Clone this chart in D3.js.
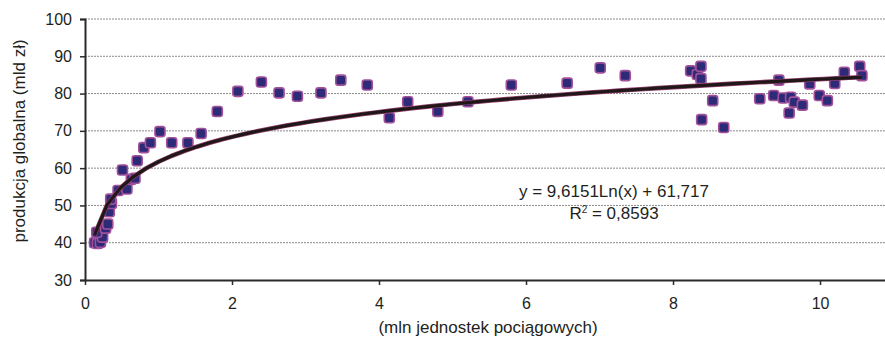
<!DOCTYPE html>
<html>
<head>
<meta charset="utf-8">
<script src="https://cdn.jsdelivr.net/npm/d3@7"></script>
<style>
  html, body { margin: 0; padding: 0; background: #fff; }
  text { font-family: "Liberation Sans", Arial, sans-serif; fill: #231f20; }
</style>
</head>
<body>
<div id="chart"></div>
<script>
// mln jednostek pociągowych
const xValues = [
  0.13, 0.17, 0.21, 0.24, 0.16, 0.28, 0.31, 0.33, 0.36, 0.35,
  0.45, 0.51, 0.57, 0.63, 0.68, 0.71, 0.80, 0.89, 1.02, 1.18,
  1.40, 1.58, 1.80, 2.08, 2.40, 2.64, 2.89, 3.21, 3.48, 3.84,
  4.14, 4.39, 4.80, 5.21, 5.80, 6.56, 7.01, 7.35, 8.24, 8.33,
  8.38, 8.38, 8.39, 8.54, 8.69, 9.18, 9.37, 9.44, 9.50, 9.60,
  9.65, 9.58, 9.76, 9.86, 9.99, 10.10, 10.20, 10.33, 10.54, 10.57
];
// produkcja globalna (mld zł)
const yValues = [
  40.0, 39.8, 40.1, 41.5, 42.8, 43.9, 45.0, 48.3, 50.5, 51.7,
  54.0, 59.5, 54.4, 57.0, 57.3, 62.0, 65.5, 66.8, 69.8, 66.8,
  66.8, 69.3, 75.2, 80.6, 83.1, 80.2, 79.3, 80.2, 83.6, 82.3,
  73.5, 77.8, 75.2, 77.8, 82.3, 82.8, 86.9, 84.8, 86.1, 85.1,
  87.3, 84.0, 73.0, 78.1, 70.9, 78.6, 79.5, 83.6, 78.8, 79.0,
  77.7, 74.8, 76.9, 82.6, 79.5, 78.1, 82.7, 85.7, 87.3, 84.8
];
const xTicks = [0, 2, 4, 6, 8, 10];
const yTicks = [30, 40, 50, 60, 70, 80, 90, 100];
const gridValues = [40, 50, 60, 70, 80, 90, 100];

// trend logarytmiczny z wykresu
const trendA = 9.6151;
const trendB = 61.717;
const equationText = "y = 9,6151Ln(x) + 61,717";
const r2Value = "0,8593";

const yTitle = "produkcja globalna (mld zł)";
const xTitle = "(mln jednostek pociągowych)";

const width = 885;
const height = 345;
const margin = { top: 19, right: 0, bottom: 65, left: 85 };

const svg = d3
  .select("#chart")
  .append("svg")
  .attr("width", width)
  .attr("height", height);

svg.append("rect").attr("width", width).attr("height", height).attr("fill", "#fff");

const x = d3
  .scaleLinear()
  .domain([0, 10.884])
  .range([margin.left, width - margin.right]);

const y = d3
  .scaleLinear()
  .domain([30, 100])
  .range([height - margin.bottom, margin.top]);

// siatka
svg
  .append("g")
  .selectAll("line")
  .data(gridValues)
  .enter()
  .append("line")
  .attr("x1", x(0))
  .attr("x2", width)
  .attr("y1", (d) => y(d))
  .attr("y2", (d) => y(d))
  .attr("stroke", "#8a8a8a")
  .attr("stroke-width", 1)
  .attr("stroke-dasharray", "2,1");

// os y
const yAxis = svg
  .append("g")
  .attr("transform", `translate(${margin.left},0)`)
  .call(d3.axisLeft(y).tickValues(yTicks).tickSize(5).tickPadding(8));
yAxis.select(".domain").attr("stroke", "#2a2a2a").attr("stroke-width", 2);
yAxis.selectAll(".tick line").attr("stroke", "#2a2a2a").attr("stroke-width", 1.5);
yAxis.selectAll("text").style("font-size", "16px").attr("fill", "#231f20");

// os x
const xAxis = svg
  .append("g")
  .attr("transform", `translate(0,${height - margin.bottom})`)
  .call(d3.axisBottom(x).tickValues(xTicks).tickSize(5).tickPadding(13).tickSizeOuter(0));
xAxis.select(".domain").attr("stroke", "#2a2a2a").attr("stroke-width", 2);
xAxis.selectAll(".tick line").attr("stroke", "#2a2a2a").attr("stroke-width", 1.5);
xAxis.selectAll("text").style("font-size", "16px").attr("fill", "#231f20");

// tytuly osi
svg
  .append("text")
  .attr("text-anchor", "middle")
  .attr("transform", "rotate(-90)")
  .attr("x", -141)
  .attr("y", 25)
  .style("font-size", "17px")
  .text(yTitle);

svg
  .append("text")
  .attr("text-anchor", "middle")
  .attr("x", 488)
  .attr("y", 333)
  .style("font-size", "17px")
  .text(xTitle);

// punkty
const points = xValues.map((v, i) => ({ x: v, y: yValues[i] }));
const s = 10;
svg
  .append("g")
  .selectAll("rect")
  .data(points)
  .enter()
  .append("rect")
  .attr("x", (d) => x(d.x) - s / 2)
  .attr("y", (d) => y(d.y) - s / 2)
  .attr("width", s)
  .attr("height", s)
  .attr("rx", 2.5)
  .attr("fill", "#2d2a78")
  .attr("stroke", "#a2509a")
  .attr("stroke-width", 1.6);

// linia trendu
const xMin = d3.min(xValues);
const xMax = d3.max(xValues);
const trend = d3.range(0, 61).map((i) => {
  const xv = xMin + ((xMax - xMin) * i) / 60;
  return { x: xv, y: trendA * Math.log(xv) + trendB };
});
const line = d3
  .line()
  .x((d) => x(d.x))
  .y((d) => y(d.y));

svg
  .append("path")
  .datum(trend)
  .attr("d", line)
  .attr("fill", "none")
  .attr("stroke", "#93406f")
  .attr("stroke-width", 4.6)
  .attr("stroke-linejoin", "round");
svg
  .append("path")
  .datum(trend)
  .attr("d", line)
  .attr("fill", "none")
  .attr("stroke", "#1f1718")
  .attr("stroke-width", 3.2)
  .attr("stroke-linejoin", "round");

// rownanie
svg
  .append("text")
  .attr("text-anchor", "middle")
  .attr("x", 614)
  .attr("y", 197)
  .style("font-size", "17px")
  .text(equationText);

const r2 = svg
  .append("text")
  .attr("text-anchor", "middle")
  .attr("x", 614)
  .attr("y", 219)
  .style("font-size", "17px");
r2.append("tspan").text("R");
r2.append("tspan").attr("dy", -6).style("font-size", "10px").text("2");
r2.append("tspan").attr("dy", 6).text(" = " + r2Value);
</script>
</body>
</html>
